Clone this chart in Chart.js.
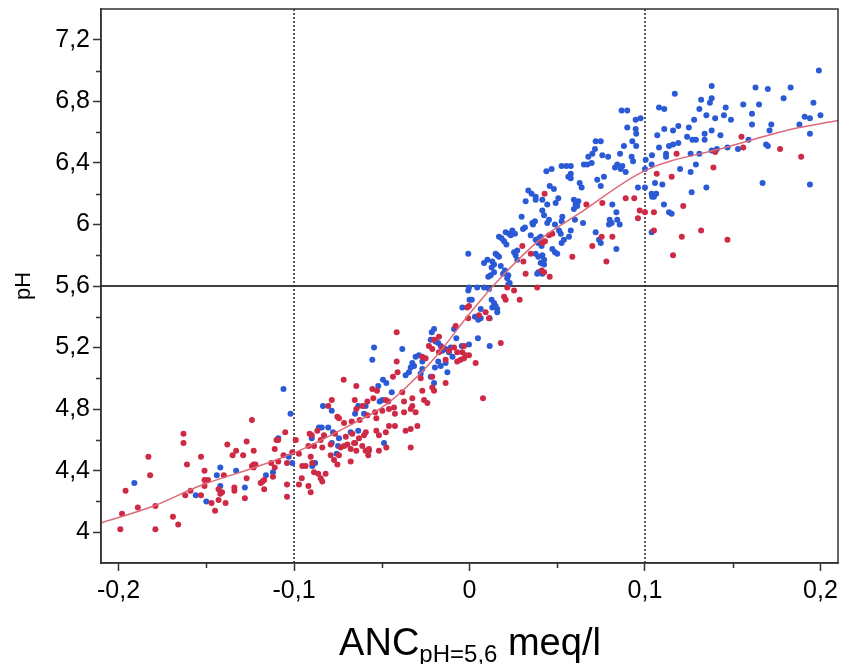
<!DOCTYPE html>
<html>
<head>
<meta charset="utf-8">
<script src="https://cdn.jsdelivr.net/npm/chart.js@4.4.1/dist/chart.umd.min.js"></script>
<style>
  html, body { margin: 0; padding: 0; background: #fff; overflow: hidden; }
  #wrap { position: relative; width: 842px; height: 664px; }
  #xtitle {
    position: absolute; left: 101px; width: 738px; top: 623px;
    text-align: center; font-family: "Liberation Sans", Arial, sans-serif;
    font-size: 38px; line-height: 38px; color: #000; white-space: nowrap;
  }
  #xtitle sub { font-size: 24px; line-height: 0; vertical-align: baseline; position: relative; top: 7px; }
</style>
</head>
<body>
<div id="wrap">
  <canvas id="c" width="842" height="664"></canvas>
  <div id="xtitle">ANC<sub>pH=5,6</sub> meq/l</div>
</div>
<script>
// ---- tick values ----
const xTicks = [-0.2, -0.1, 0, 0.1, 0.2];
const xMinor = [-0.15, -0.05, 0.05, 0.15];
const yTicks = [4, 4.4, 4.8, 5.2, 5.6, 6, 6.4, 6.8, 7.2];
const yMinor = [4.2, 4.6, 5.0, 5.4, 5.8, 6.2, 6.6, 7.0];

// ---- reference lines ----
const vLines = [-0.1, 0.1];
const hLine = 5.6;

// ---- fitted curve ----
const curveX = [-0.21, -0.18, -0.154, -0.12, -0.097, -0.069, -0.05, -0.042, -0.02, 0, 0.015, 0.04, 0.0624, 0.1, 0.146, 0.184, 0.21];
const curveY = [4.06, 4.17, 4.30, 4.43, 4.53, 4.69, 4.81, 4.88, 5.13, 5.42, 5.62, 5.90, 6.07, 6.35, 6.50, 6.62, 6.675];

// ---- red points [x, y] ----
const redPoints = [
[-0.199,4.02],[-0.198,4.12],[-0.196,4.27],[-0.189,4.16],[-0.183,4.49],[-0.182,4.37],[-0.179,4.17],[-0.179,4.02],[-0.169,4.10],[-0.166,4.05],
[-0.163,4.64],[-0.163,4.58],[-0.162,4.24],[-0.161,4.44],[-0.159,4.27],[-0.153,4.49],[-0.153,4.24],[-0.151,4.40],[-0.151,4.34],[-0.151,4.30],
[-0.149,4.34],[-0.147,4.19],[-0.145,4.14],[-0.143,4.21],[-0.143,4.28],[-0.142,4.25],[-0.141,4.26],[-0.140,4.37],[-0.139,4.19],[-0.138,4.57],
[-0.135,4.50],[-0.134,4.29],[-0.134,4.27],[-0.133,4.53],[-0.129,4.50],[-0.128,4.22],[-0.127,4.59],[-0.127,4.35],[-0.124,4.73],[-0.123,4.53],
[-0.123,4.44],[-0.122,4.44],[-0.124,4.43],[-0.123,4.42],[-0.119,4.32],[-0.118,4.33],[-0.117,4.28],[-0.117,4.34],[-0.113,4.45],[-0.112,4.36],
[-0.111,4.54],[-0.111,4.42],[-0.110,4.60],[-0.109,4.60],[-0.109,4.46],[-0.106,4.50],[-0.105,4.65],[-0.104,4.45],[-0.104,4.31],[-0.104,4.23],
[-0.101,4.52],[-0.099,4.60],
[-0.0415,5.30],[-0.0415,5.11],[-0.0436,5.01],[-0.041,5.04],[-0.0717,4.99],[-0.0645,4.95],[-0.0554,4.93],[-0.0527,4.92],[-0.0785,4.86],[-0.0805,4.82],
[-0.0654,4.86],[-0.0582,4.85],[-0.0548,4.87],[-0.0477,4.86],[-0.0463,4.85],[-0.0753,4.75],[-0.0744,4.74],[-0.0645,4.80],[-0.061,4.82],[-0.0582,4.76],
[-0.0538,4.78],[-0.0531,4.74],[-0.0497,4.79],[-0.0459,4.80],[-0.043,4.81],[-0.0425,4.77],[-0.0715,4.71],[-0.0671,4.72],[-0.0626,4.73],[-0.0911,4.64],
[-0.0899,4.63],[-0.0867,4.66],[-0.0848,4.60],[-0.0829,4.63],[-0.0766,4.64],[-0.0705,4.62],[-0.0668,4.64],[-0.0658,4.58],[-0.063,4.61],[-0.0601,4.63],
[-0.0591,4.65],[-0.0531,4.66],[-0.0516,4.63],[-0.0477,4.65],[-0.0459,4.69],[-0.0425,4.69],[-0.0918,4.56],[-0.0886,4.56],[-0.0839,4.55],[-0.0791,4.57],
[-0.0734,4.55],[-0.0715,4.56],[-0.0696,4.57],[-0.0677,4.54],[-0.0652,4.58],[-0.0645,4.53],[-0.0611,4.56],[-0.0592,4.53],[-0.0573,4.54],[-0.0516,4.53],
[-0.0474,4.55],[-0.0972,4.51],[-0.0953,4.43],[-0.0934,4.43],[-0.0905,4.49],[-0.0896,4.45],[-0.0886,4.39],[-0.0956,4.35],[-0.0972,4.31],[-0.0862,4.38],
[-0.0848,4.35],[-0.0839,4.33],[-0.082,4.38],[-0.0791,4.50],[-0.0772,4.47],[-0.0753,4.44],[-0.0744,4.50],[-0.0677,4.46],[-0.0577,4.50],[-0.0573,4.53],
[-0.0918,4.30],[-0.0905,4.26],
[-0.0364,4.66],[-0.0335,4.55],
[0.0077,4.87],[0.0178,5.23],[0.0035,5.10],[-0.0136,4.97],[-0.0212,4.94],[-0.0202,4.92],[-0.0212,5.01],[-0.0278,5.00],[-0.0269,4.92],[-0.0259,4.86],
[-0.024,4.84],[-0.0326,4.87],[-0.0326,4.82],[-0.0307,4.78],[-0.0335,4.80],[-0.0373,4.78],[-0.0383,4.91],[-0.0373,4.85],[-0.0297,4.69],[-0.0335,4.67],
[-0.0136,5.12],[-0.0117,5.18],[-0.0088,5.20],[-0.007,5.17],[-0.0041,5.17],[-0.0022,5.15],[-0.0003,5.15],[-0.0031,5.21],[-0.007,5.11],[-0.005,5.12],
[-0.0031,5.13],[-0.0231,5.21],[-0.0212,5.19],[-0.0174,5.17],[-0.0155,5.20],[-0.0202,5.25],[-0.0174,5.27],[-0.0269,5.14],[-0.025,5.13],[-0.0079,5.34],
[-0.0007,5.39],[-0.0013,5.46],[-0.0003,5.47],[0.0054,5.41],[0.0092,5.43],[0.0111,5.39],[0.0197,5.53],[0.0206,5.51],[0.0254,5.57],[0.0286,5.51],
[0.0215,5.59],[0.0386,5.59],[0.0457,5.66],[0.0411,5.70],[0.0425,5.69],[0.032,5.68],[0.0301,5.86],[0.0307,5.76],[0.0349,5.81],[0.0415,5.88],
[0.043,5.89],[0.0453,5.93],[0.0472,5.94],[0.0586,5.79],[0.070,5.86],[0.0666,6.13],[0.0757,6.14],[0.078,5.76],[0.0814,5.92],[0.0753,5.92],
[0.0428,6.20],
[0.155,6.57],[0.156,6.50],[0.177,6.49],[0.189,6.44],[0.140,6.47],[0.118,6.46],[0.139,6.37],[0.1067,6.33],[0.1152,6.31],[0.1218,6.12],
[0.132,5.96],[0.147,5.90],[0.121,5.92],[0.116,5.80],[0.1051,6.08],[0.1051,5.96],[0.100,6.08],[0.097,6.09],[0.096,6.04],[0.0939,6.17],[0.089,6.17]
];

// ---- blue points [x, y] ----
const bluePoints = [
[-0.191,4.32],[-0.156,4.24],[-0.150,4.20],[-0.144,4.37],[-0.142,4.42],[-0.142,4.30],[-0.133,4.40],[-0.128,4.29],[-0.116,4.37],[-0.112,4.39],
[-0.109,4.61],[-0.106,4.93],[-0.102,4.77],[-0.103,4.49],[-0.101,4.45],
[-0.0544,5.20],[-0.0554,5.12],[-0.0493,4.99],[-0.0474,4.97],[-0.052,4.95],[-0.0443,4.91],[-0.0512,4.85],[-0.0497,4.86],[-0.0835,4.82],[-0.0785,4.79],
[-0.0634,4.82],[-0.0592,4.82],[-0.0652,4.77],[-0.0601,4.77],[-0.0858,4.68],[-0.0842,4.68],[-0.0805,4.68],[-0.0778,4.65],[-0.0744,4.61],[-0.0677,4.65],
[-0.0634,4.66],[-0.0785,4.58],[-0.0749,4.56],[-0.0757,4.51],[-0.0899,4.61],[-0.088,4.45],[-0.0896,4.43],[-0.0487,4.58],
[-0.0007,5.81],[-0.0007,5.57],[-0.0003,5.59],[0.0044,5.59],[0.0083,5.59],[0.0111,5.58],[0,5.51],[0.0013,5.51],[-0.0041,5.46],[0.0064,5.45],
[0.0031,5.40],[0.005,5.38],[0.0064,5.39],[0.0126,5.51],[0.014,5.49],[0.013,5.46],[0.0158,5.45],[0.0149,5.47],[0.0158,5.43],[0.0115,5.39],
[0.0083,5.75],[0.0102,5.77],[0.013,5.76],[0.014,5.74],[0.0126,5.72],[0.014,5.69],[0.0121,5.67],[0.0107,5.66],[0.0158,5.80],[0.0168,5.79],
[0.0149,5.81],[0.0178,5.73],[0.0202,5.70],[0.0191,5.68],[0.0215,5.65],[0.0229,5.62],[0.0221,5.67],[0.0221,5.61],[0.0168,5.92],[0.0183,5.91],
[0.0197,5.89],[0.021,5.87],[0.0206,5.95],[0.0225,5.94],[0.0244,5.96],[0.0259,5.94],[0.0235,5.93],[0.0254,5.82],[0.0272,5.83],[0.0263,5.80],
[0.0272,5.77],[0.0297,6.05],[0.0316,5.98],[0.0305,5.97],[0.0358,6.01],[0.0373,6.02],[0.0362,6.00],[0.0349,5.93],[0.0377,5.90],[0.0396,5.91],
[0.0406,5.92],[0.0392,5.88],[0.0411,5.86],[0.0377,5.81],[0.0392,5.79],[0.0415,5.80],[0.0425,5.77],[0.0406,5.75],[0.0425,5.74],[0.0392,5.69],
[0.0386,5.68],[0.0415,5.68],[0.0415,6.09],[0.0425,6.06],[0.0415,6.16],[0.0443,6.01],[0.0453,6.03],[0.0487,6.00],[0.0529,6.05],[0.0525,6.02],
[0.051,5.96],[0.052,5.94],[0.0472,5.84],[0.0487,5.82],[0.05,5.81],[0.0525,5.88],[0.0538,5.90],[0.0567,5.92],[0.0577,5.96],[0.0605,6.13],
[0.062,6.15],[0.0601,6.03],[0.0647,6.01],[0.0719,5.95],[0.0738,5.90],[0.0748,5.88],[0.0795,6.00],[0.081,6.01],[0.0799,6.03],[0.0837,6.08],
[0.0837,5.84],[0.0814,6.13],[0.0842,6.03],[0.0856,6.00],[0.0443,6.13],[0.0491,6.14],[0.032,6.15],[0.0377,6.16],
[-0.0202,5.32],[-0.0215,5.30],[-0.0221,5.25],[-0.0193,5.24],[-0.0178,5.23],[-0.0164,5.21],[-0.0136,5.19],[-0.0155,5.18],[-0.0107,5.20],[-0.0097,5.14],
[-0.0117,5.17],[-0.0075,5.26],[-0.0088,5.32],[-0.0164,5.08],[-0.0178,5.11],[-0.0197,5.07],[-0.0269,5.11],[-0.0288,5.15],[-0.0307,5.14],[-0.0326,5.10],
[-0.0335,5.07],[-0.0316,5.08],[-0.0345,5.04],[-0.0364,5.02],[-0.0221,5.01],[-0.0202,4.97],[-0.0269,5.06],[-0.0278,5.03],[-0.0136,5.10],[-0.0126,5.04],
[0.0048,5.26],[0.0115,5.21],[-0.0003,5.22],[-0.0044,5.21],[-0.0383,5.19],
[0.0438,6.345],[0.0468,6.36],[0.0335,6.22],[0.0354,6.20],[0.0377,6.18],[0.0457,6.25],[0.0481,6.23],[0.0506,6.17],[0.0563,6.31],
[0.1991,7.00],[0.138,6.90],[0.163,6.89],[0.170,6.88],[0.183,6.89],[0.117,6.85],[0.179,6.82],[0.132,6.81],[0.138,6.82],[0.137,6.79],
[0.108,6.76],[0.111,6.75],[0.131,6.75],[0.146,6.76],[0.156,6.78],[0.165,6.78],[0.196,6.79],[0.200,6.71],[0.191,6.70],[0.194,6.69],
[0.0867,6.74],[0.0899,6.74],[0.0947,6.68],[0.0975,6.69],[0.135,6.71],[0.140,6.69],[0.145,6.71],[0.149,6.68],[0.128,6.68],[0.161,6.72],
[0.161,6.65],[0.172,6.65],[0.188,6.65],[0.171,6.61],[0.194,6.59],[0.0899,6.63],[0.111,6.62],[0.119,6.64],[0.125,6.63],[0.0947,6.62],
[0.095,6.59],[0.116,6.61],[0.138,6.61],[0.107,6.58],[0.124,6.57],[0.127,6.55],[0.143,6.58],[0.134,6.59],[0.134,6.55],[0.0719,6.54],
[0.0748,6.54],[0.0928,6.54],[0.095,6.51],[0.088,6.51],[0.108,6.50],[0.1137,6.51],[0.116,6.52],[0.119,6.53],[0.129,6.55],[0.147,6.50],
[0.153,6.49],[0.159,6.55],[0.169,6.52],[0.170,6.51],[0.138,6.48],[0.141,6.49],[0.070,6.46],[0.0715,6.49],[0.0677,6.44],[0.0757,6.45],
[0.079,6.44],[0.0858,6.46],[0.0924,6.44],[0.0932,6.41],[0.104,6.45],[0.112,6.46],[0.112,6.44],[0.126,6.46],[0.131,6.46],[0.0652,6.39],
[0.0671,6.39],[0.0577,6.38],[0.0552,6.38],[0.0525,6.38],[0.0696,6.40],[0.0871,6.38],[0.1004,6.42],[0.1038,6.39],[0.120,6.36],[0.129,6.39],
[0.126,6.34],[0.0577,6.33],[0.0577,6.30],[0.0628,6.27],[0.0639,6.24],[0.0728,6.29],[0.0748,6.25],[0.0766,6.31],[0.0829,6.37],[0.0862,6.36],
[0.0842,6.39],[0.089,6.34],[0.100,6.36],[0.1057,6.27],[0.1099,6.26],[0.1266,6.21],[0.135,6.24],[0.167,6.27],[0.194,6.26],[0.0595,6.16],
[0.0609,6.14],[0.0595,6.10],[0.0614,6.12],[0.096,6.24],[0.100,6.24],[0.1038,6.20],[0.1051,6.18],[0.1064,6.20],[0.1041,6.18],[0.1038,5.95],
[0.1108,6.13],[0.1137,6.08],[0.1152,6.07]
];

// ---- build chart ----
const X_MIN = -0.21, X_MAX = 0.21, Y_MIN = 3.8, Y_MAX = 7.4;
const AXIS_COLOR = '#333333';
const FONT = '"Liberation Sans", Arial, sans-serif';
const fmt = v => String(v).replace('.', ',');

const toXY = arr => arr.map(p => ({x: p[0], y: p[1]}));
const curveData = curveX.map((x, i) => ({x, y: curveY[i]}));

const refDatasets = vLines.map(v => ({
  type: 'line', data: [{x: v, y: Y_MIN}, {x: v, y: Y_MAX}],
  borderColor: '#222', borderWidth: 1.5, borderDash: [2, 2], pointRadius: 0, order: 5
}));
refDatasets.push({
  type: 'line', data: [{x: X_MIN, y: hLine}, {x: X_MAX, y: hLine}],
  borderColor: '#000', borderWidth: 1.3, pointRadius: 0, order: 5
});

const frameAndMinor = {
  id: 'frameAndMinor',
  afterDraw(chart) {
    const {ctx, chartArea: a, scales: {x, y}} = chart;
    ctx.save();
    ctx.strokeStyle = AXIS_COLOR;
    ctx.lineWidth = 1.5;
    ctx.strokeRect(a.left, a.top, a.right - a.left, a.bottom - a.top);
    ctx.beginPath();
    xMinor.forEach(v => { const px = Math.round(x.getPixelForValue(v)) + 0.5; ctx.moveTo(px, a.bottom); ctx.lineTo(px, a.bottom + 5); });
    yMinor.forEach(v => { const py = Math.round(y.getPixelForValue(v)) + 0.5; ctx.moveTo(a.left - 5, py); ctx.lineTo(a.left, py); });
    ctx.stroke();
    ctx.restore();
  }
};

new Chart(document.getElementById('c'), {
  type: 'scatter',
  data: {
    datasets: [
      { type: 'line', data: curveData, borderColor: '#dc6a78', borderWidth: 1.5, pointRadius: 0,
        cubicInterpolationMode: 'monotone', order: 0 },
      { data: toXY(redPoints), backgroundColor: '#cf2a45', pointRadius: 3, pointBorderWidth: 0, order: 1 },
      { data: toXY(bluePoints), backgroundColor: '#2a5ad5', pointRadius: 3, pointBorderWidth: 0, order: 2 },
      ...refDatasets
    ]
  },
  options: {
    responsive: false,
    animation: false,
    events: [],
    layout: { padding: { left: 0, right: 3, top: 9, bottom: 0 } },
    plugins: { legend: { display: false }, tooltip: { enabled: false } },
    scales: {
      x: {
        type: 'linear', min: X_MIN, max: X_MAX,
        afterBuildTicks: s => { s.ticks = xTicks.map(v => ({value: v})); },
        afterFit: s => { s.height = 101; s.paddingLeft = 0; s.paddingRight = 0; },
        ticks: { callback: v => fmt(v), color: '#000', font: { family: FONT, size: 25 }, padding: 5, maxRotation: 0 },
        grid: { drawOnChartArea: false, drawTicks: true, tickLength: 8, tickColor: AXIS_COLOR, tickWidth: 1.5 },
        border: { display: true, color: AXIS_COLOR, width: 1.5 }
      },
      y: {
        type: 'linear', min: Y_MIN, max: Y_MAX,
        afterBuildTicks: s => { s.ticks = yTicks.map(v => ({value: v})); },
        afterFit: s => { s.width = 101; s.paddingTop = 0; s.paddingBottom = 0; },
        ticks: { callback: v => fmt(v), color: '#000', font: { family: FONT, size: 25 }, padding: 3 },
        grid: { drawOnChartArea: false, drawTicks: true, tickLength: 8, tickColor: AXIS_COLOR, tickWidth: 1.5 },
        border: { display: true, color: AXIS_COLOR, width: 1.5 },
        title: { display: true, text: 'pH', color: '#000', font: { family: FONT, size: 22 }, padding: { top: 11, bottom: 0 } }
      }
    }
  },
  plugins: [frameAndMinor]
});
</script>
</body>
</html>
